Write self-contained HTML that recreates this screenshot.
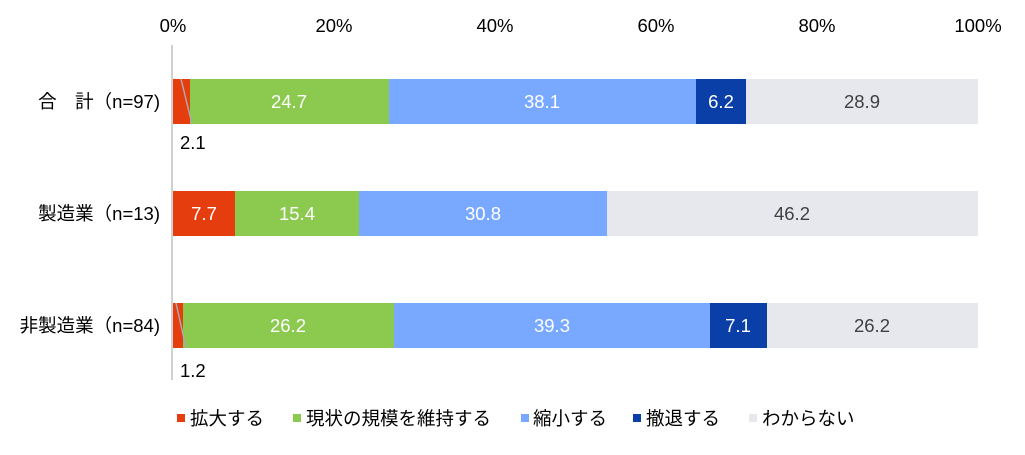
<!DOCTYPE html>
<html><head><meta charset="utf-8"><style>
body{margin:0;background:#fff;}
svg text{font-family:"Liberation Sans","Noto Sans CJK JP",sans-serif;font-size:18.5px;}
</style></head><body>
<svg width="1025" height="450" xmlns="http://www.w3.org/2000/svg">
<g fill="#000" text-anchor="middle">
<text x="173" y="32">0%</text><text x="334" y="32">20%</text><text x="495" y="32">40%</text><text x="656" y="32">60%</text><text x="817" y="32">80%</text><text x="978" y="32">100%</text>
</g>
<line x1="172" y1="45" x2="172" y2="380" stroke="#d0d0d0" stroke-width="2"/>
<rect x="173" y="79" width="17" height="45" fill="#E53D0E"/>
<rect x="190" y="79" width="199" height="45" fill="#8CC94F"/>
<rect x="389" y="79" width="307" height="45" fill="#78A8FF"/>
<rect x="696" y="79" width="50" height="45" fill="#0A3FA8"/>
<rect x="746" y="79" width="232" height="45" fill="#E6E8EE"/>
<rect x="173" y="191" width="62" height="45" fill="#E53D0E"/>
<rect x="235" y="191" width="124" height="45" fill="#8CC94F"/>
<rect x="359" y="191" width="248" height="45" fill="#78A8FF"/>
<rect x="607" y="191" width="371" height="45" fill="#E6E8EE"/>
<rect x="173" y="303" width="10" height="45" fill="#E53D0E"/>
<rect x="183" y="303" width="211" height="45" fill="#8CC94F"/>
<rect x="394" y="303" width="316" height="45" fill="#78A8FF"/>
<rect x="710" y="303" width="57" height="45" fill="#0A3FA8"/>
<rect x="767" y="303" width="211" height="45" fill="#E6E8EE"/>
<line x1="181" y1="79" x2="192" y2="124" stroke="#aaa" stroke-width="1.5"/>
<line x1="176" y1="303" x2="186" y2="348" stroke="#aaa" stroke-width="1.5"/>
<g text-anchor="middle" fill="#fff">
<text x="289" y="108">24.7</text><text x="542" y="108">38.1</text><text x="721" y="108">6.2</text>
<text x="204" y="220">7.7</text><text x="297" y="220">15.4</text><text x="483" y="220">30.8</text>
<text x="288" y="332">26.2</text><text x="552" y="332">39.3</text><text x="738" y="332">7.1</text>
</g>
<g text-anchor="middle" fill="#404040">
<text x="862" y="108">28.9</text><text x="792" y="220">46.2</text><text x="872" y="332">26.2</text>
</g>
<g fill="#000">
<text x="180" y="149">2.1</text><text x="180" y="377">1.2</text>
</g>
<g fill="#000" text-anchor="end">
<text x="160" y="108">合　計（n=97)</text>
<text x="160" y="220">製造業（n=13)</text>
<text x="160" y="332">非製造業（n=84)</text>
</g>
<rect x="177" y="414" width="8" height="8" fill="#E53D0E"/><text x="190" y="425">拡大する</text>
<rect x="293" y="414" width="8" height="8" fill="#8CC94F"/><text x="306" y="425">現状の規模を維持する</text>
<rect x="521" y="414" width="8" height="8" fill="#78A8FF"/><text x="533" y="425">縮小する</text>
<rect x="633" y="414" width="8" height="8" fill="#0A3FA8"/><text x="646" y="425">撤退する</text>
<rect x="749" y="414" width="8" height="8" fill="#E6E8EE"/><text x="762" y="425">わからない</text>
</svg>
</body></html>
